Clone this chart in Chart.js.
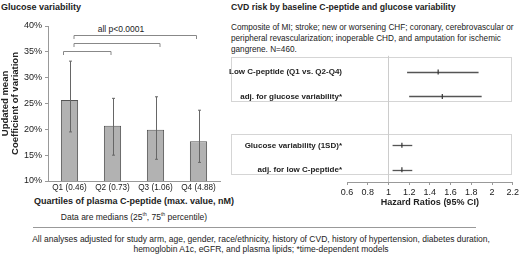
<!DOCTYPE html>
<html>
<head>
<meta charset="utf-8">
<script src="https://cdn.jsdelivr.net/npm/chart.js@4.4.1/dist/chart.umd.min.js"></script>
<style>
  html, body { margin: 0; padding: 0; background: #fff; }
  body { width: 520px; height: 255px; position: relative; overflow: hidden;
         font-family: "Liberation Sans", Arial, sans-serif; color: #222; }
  .t { position: absolute; white-space: nowrap; }
  .title { font-weight: bold; font-size: 9px; }
  .small { font-size: 8.5px; line-height: 10px; }
  canvas { position: absolute; }
</style>
</head>
<body>
<div class="t title" style="left:1px; top:2px;">Glucose variability</div>
<div class="t small" style="left:121px; top:24px; transform:translateX(-50%);">all p&lt;0.0001</div>
<div class="t title" style="left:134px; top:196px; transform:translateX(-50%);">Quartiles of plasma C-peptide (max. value, nM)</div>
<div class="t small" style="left:134px; top:209px; transform:translateX(-50%);">Data are medians (25<sup style="font-size:5px">th</sup>, 75<sup style="font-size:5px">th</sup> percentile)</div>

<div class="t title" style="left:231px; top:2px; font-size:8.7px;">CVD risk by baseline C-peptide and glucose variability</div>
<div class="t small" style="left:231px; top:22px; font-size:8.2px; line-height:11px;">Composite of MI; stroke; new or worsening CHF; coronary, cerebrovascular or<br>peripheral revascularization; inoperable CHD, and amputation for ischemic<br>gangrene. N=460.</div>

<div style="position:absolute; left:33px; top:227px; width:443px; border-top:1.5px solid #999;"></div>
<div class="t small" style="left:261px; top:234px; transform:translateX(-50%); text-align:center;">All analyses adjusted for study arm, age, gender, race/ethnicity, history of CVD, history of hypertension, diabetes duration,<br>hemoglobin A1c, eGFR, and plasma lipids; *time-dependent models</div>

<canvas id="gv" style="left:0; top:0;" width="230" height="200"></canvas>
<canvas id="cvd" style="left:225px; top:50px;" width="296" height="162"></canvas>

<script>
// --- glucose variability (CV, %) by C-peptide quartile
const quartiles = ["Q1 (0.46)", "Q2 (0.73)", "Q3 (1.06)", "Q4 (4.88)"];
const cvMedian = [25.7, 20.7, 19.9, 17.7];
const cvP25 = [19.5, 15.0, 14.2, 13.6];
const cvP75 = [33.2, 26.0, 26.3, 23.7];
const cvTicks = [10, 15, 20, 25, 30, 35, 40];

// significance brackets (from, to, level in %)
const bracketFrom = [0, 0, 0];
const bracketTo = [1, 2, 3];
const bracketLevel = [35.2, 36.7, 38.3];

// --- hazard ratios
const hrRows = ["Low C-peptide (Q1 vs. Q2-Q4)", "adj. for glucose variability*", "", "Glucose variability (1SD)*", "adj. for low C-peptide*"];
const hrRowsUsed = [0, 1, 3, 4];
const hrEst = [1.48, 1.52, 1.13, 1.13];
const hrLow = [1.18, 1.20, 1.04, 1.04];
const hrHigh = [1.87, 1.90, 1.23, 1.23];
const hrTicks = [0.6, 0.8, 1, 1.2, 1.4, 1.6, 1.8, 2, 2.2];

const FONT = "'Liberation Sans', Arial, sans-serif";
Chart.defaults.font.family = FONT;
Chart.defaults.color = "#222";

const errorBars = {
    id: "errorBars",
    afterDatasetsDraw(chart) {
        const { ctx, scales: { x, y } } = chart;
        ctx.save();
        ctx.strokeStyle = "#666";
        ctx.lineWidth = 1;
        cvMedian.forEach((v, i) => {
            const px = Math.round(x.getPixelForValue(i)) + 0.5;
            const lo = y.getPixelForValue(cvP25[i]);
            const hi = y.getPixelForValue(cvP75[i]);
            ctx.beginPath();
            ctx.moveTo(px, lo); ctx.lineTo(px, hi);
            ctx.moveTo(px - 1.5, lo); ctx.lineTo(px + 1.5, lo);
            ctx.moveTo(px - 1.5, hi); ctx.lineTo(px + 1.5, hi);
            ctx.stroke();
        });
        // brackets
        const dx = [[-6, -1.5], [4.5, 4.5], [4.5, -2]];
        ctx.strokeStyle = "#888";
        bracketLevel.forEach((lvl, i) => {
            const x1 = x.getPixelForValue(bracketFrom[i]) + dx[i][0];
            const x2 = x.getPixelForValue(bracketTo[i]) + dx[i][1];
            const py = Math.round(y.getPixelForValue(lvl)) + 0.5;
            ctx.beginPath();
            ctx.moveTo(x1, py + 3.5); ctx.lineTo(x1, py);
            ctx.lineTo(x2, py); ctx.lineTo(x2, py + 3.5);
            ctx.stroke();
        });
        ctx.restore();
    }
};

new Chart(document.getElementById("gv"), {
    type: "bar",
    data: {
        labels: quartiles,
        datasets: [{
            data: cvMedian,
            backgroundColor: "#b2b2b2",
            borderColor: "#555",
            borderWidth: 1,
            borderSkipped: "bottom",
            categoryPercentage: 1,
            barPercentage: 0.4
        }]
    },
    options: {
        responsive: false,
        animation: false,
        layout: { padding: { top: 26, right: 10 } },
        plugins: { legend: { display: false }, tooltip: { enabled: false } },
        scales: {
            x: {
                grid: { display: false, drawTicks: false },
                border: { color: "#999" },
                ticks: { font: { size: 8.2 }, color: "#222", padding: 2, maxRotation: 0, autoSkip: false },
                afterFit(s) { s.height = 19; }
            },
            y: {
                min: 10, max: 40,
                afterBuildTicks(s) { s.ticks = cvTicks.map(v => ({ value: v })); },
                ticks: { font: { size: 9 }, color: "#222", callback: v => v + "%", padding: 3 },
                grid: { drawOnChartArea: false, tickLength: 3, color: "#999" },
                border: { color: "#999" },
                title: { display: true, text: ["Updated mean", "Coefficient of variation"],
                         font: { size: 9.5, weight: "bold", lineHeight: 1.05 }, color: "#222", padding: 0 },
                afterFit(s) { s.width = 48; }
            }
        }
    },
    plugins: [errorBars]
});

const forestDeco = {
    id: "forestDeco",
    beforeDatasetsDraw(chart) {
        const { ctx, chartArea, scales: { x, y } } = chart;
        ctx.save();
        // dotted boxes around the two groups
        const boxes = [[0, 1, 15, 4.5], [3, 4, 11, 4.5]];
        ctx.strokeStyle = "#aaa";
        ctx.lineWidth = 1;
        ctx.setLineDash([1, 1]);
        boxes.forEach(b => {
            const top = Math.round(y.getPixelForValue(b[0]) - b[2]) + 0.5;
            const bot = Math.round(y.getPixelForValue(b[1]) + b[3]) + 0.5;
            ctx.strokeRect(6.5, top, chart.width - 16, bot - top);
        });
        // reference line at HR = 1
        ctx.strokeStyle = "#ccc";
        const px = Math.round(x.getPixelForValue(1)) + 0.5;
        ctx.setLineDash([]);
        ctx.beginPath();
        ctx.moveTo(px, chartArea.top - 4);
        ctx.lineTo(px, chartArea.bottom);
        ctx.stroke();
        // CI lines
        ctx.strokeStyle = "#555";
        ctx.lineWidth = 1.3;
        hrRowsUsed.forEach((r, i) => {
            const py = Math.round(y.getPixelForValue(r)) + 0.5;
            ctx.beginPath();
            ctx.moveTo(x.getPixelForValue(hrLow[i]), py);
            ctx.lineTo(x.getPixelForValue(hrHigh[i]), py);
            ctx.stroke();
        });
        ctx.restore();
    }
};

new Chart(document.getElementById("cvd"), {
    type: "scatter",
    data: {
        datasets: [{
            data: hrRowsUsed.map((r, i) => ({ x: hrEst[i], y: hrRows[r] })),
            pointStyle: "line",
            rotation: 90,
            radius: 2.5,
            borderColor: "#333",
            borderWidth: 1.2
        }]
    },
    options: {
        responsive: false,
        animation: false,
        layout: { padding: { top: 6, right: 0 } },
        plugins: { legend: { display: false }, tooltip: { enabled: false } },
        scales: {
            x: {
                type: "linear",
                min: 0.6, max: 2.2,
                afterBuildTicks(s) { s.ticks = hrTicks.map(v => ({ value: v })); },
                ticks: { font: { size: 9 }, color: "#222", padding: 2,
                         callback: v => String(Math.round(v * 10) / 10) },
                grid: { drawOnChartArea: false, tickLength: 3, color: "#999" },
                border: { color: "#999" },
                title: { display: true, text: "Hazard Ratios (95% CI)",
                         font: { size: 9, weight: "bold" }, color: "#222", padding: { top: 3 } },
                afterFit(s) { s.height = 30; }
            },
            y: {
                type: "category",
                labels: hrRows,
                offset: true,
                grid: { display: false, drawTicks: false },
                border: { display: false },
                ticks: { font: { size: 8, weight: "bold" }, color: "#222", padding: 5 },
                afterFit(s) { s.width = 122; }
            }
        }
    },
    plugins: [forestDeco]
});
</script>
</body>
</html>
